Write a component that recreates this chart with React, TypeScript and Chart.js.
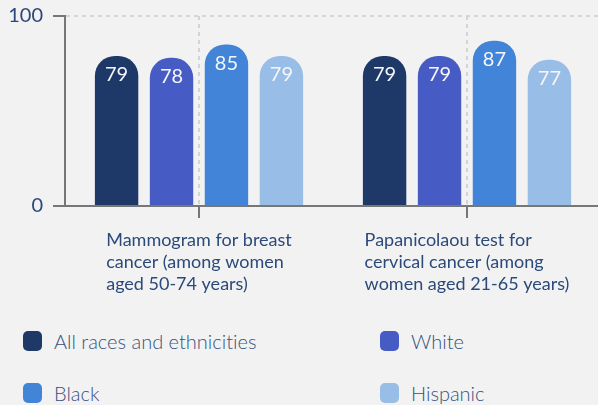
import React, { useEffect, useRef } from "react";
import { Chart, registerables } from "chart.js";

Chart.register(...registerables);

const categories: string[][] = [
  ["Mammogram for breast", "cancer (among women", "aged 50-74 years)"],
  ["Papanicolaou test for", "cervical cancer (among", "women aged 21-65 years)"],
];
const seriesNames = ["All races and ethnicities", "White", "Black", "Hispanic"];
const allRaces = [79, 79];
const white = [78, 79];
const black = [85, 87];
const hispanic = [79, 77];
const seriesValues = [allRaces, white, black, hispanic];
const seriesColors = ["#1e3867", "#465cc4", "#4285d8", "#98bde6"];
const yTicks = [0, 100];

const TEXT = "#2b4a7a";
const FONT = "Lato, 'Noto Sans', sans-serif";

const barLabelPlugin = {
  id: "barLabels",
  afterDatasetsDraw(chart: any) {
    const ctx = chart.ctx;
    ctx.save();
    ctx.font = `20px ${FONT}`;
    ctx.fillStyle = "#f4f6fa";
    ctx.textAlign = "center";
    ctx.textBaseline = "middle";
    chart.data.datasets.forEach((ds: any, di: number) => {
      const meta = chart.getDatasetMeta(di);
      meta.data.forEach((el: any, i: number) => {
        ctx.fillText(String(ds.data[i]), el.x, el.y + 19);
      });
    });
    ctx.restore();
  },
};

const xLabelPlugin = {
  id: "xLabels",
  afterDraw(chart: any) {
    const ctx = chart.ctx;
    const xs = chart.scales.x;
    ctx.save();
    ctx.font = `18px ${FONT}`;
    ctx.fillStyle = TEXT;
    ctx.textAlign = "left";
    ctx.textBaseline = "middle";
    categories.forEach((lines, i) => {
      const cx = xs.getPixelForTick(i);
      const w = Math.max(...lines.map((l) => ctx.measureText(l).width));
      const left = cx - w / 2;
      lines.forEach((l, j) => {
        ctx.fillText(l, left, chart.chartArea.bottom + 34 + 22 * j);
      });
    });
    ctx.restore();
  },
};

export default function App() {
  const ref = useRef<HTMLCanvasElement>(null);
  useEffect(() => {
    document.body.style.margin = "0";
    document.body.style.background = "#f2f2f2";
    const chart = new Chart(ref.current!, {
      type: "bar",
      data: {
        labels: categories,
        datasets: seriesNames.map((name, i) => ({
          label: name,
          data: seriesValues[i],
          backgroundColor: seriesColors[i],
          borderRadius: 20,
          borderSkipped: "start",
          categoryPercentage: 0.82,
          barPercentage: 0.79,
        })),
      },
      options: {
        animation: false,
        responsive: false,
        maintainAspectRatio: false,
        layout: { padding: { top: 16, left: 0, right: 0, bottom: 0 } },
        plugins: { legend: { display: false }, tooltip: { enabled: false } },
        scales: {
          x: {
            offset: true,
            grid: {
              offset: false,
              color: "#d4d4d4",
              lineWidth: 2,
              tickColor: "#777777",
              tickWidth: 2,
              tickLength: 12,
              tickBorderDash: [],
            },
            border: { color: "#777777", width: 2, dash: [4, 4] },
            ticks: { display: false },
            afterFit: (s: any) => {
              s.height = 94;
            },
          },
          y: {
            min: 0,
            max: 100,
            afterBuildTicks: (s: any) => {
              s.ticks = yTicks.map((v) => ({ value: v }));
            },
            grid: {
              color: "#d4d4d4",
              lineWidth: 2,
              tickColor: "#777777",
              tickWidth: 2,
              tickLength: 12,
              tickBorderDash: [],
            },
            border: { color: "#777777", width: 2, dash: [4, 4] },
            ticks: {
              padding: 10,
              color: TEXT,
              font: { family: FONT, size: 20 },
            },
            afterFit: (s: any) => {
              s.width = 65;
              s.paddingTop = 0;
              s.paddingBottom = 0;
            },
          },
        },
      },
      plugins: [barLabelPlugin, xLabelPlugin],
    });
    return () => chart.destroy();
  }, []);

  const legendItem = (i: number, left: number, top: number) => (
    <div
      key={i}
      style={{
        position: "absolute",
        left,
        top,
        display: "flex",
        alignItems: "center",
        height: 22,
      }}
    >
      <div
        style={{
          width: 19,
          height: 20,
          borderRadius: 5,
          background: seriesColors[i],
          marginRight: 12,
        }}
      />
      <span
        style={{
          fontFamily: FONT,
          fontWeight: 300,
          fontSize: 20,
          color: "#35527f",
          whiteSpace: "nowrap",
          fontVariantLigatures: "none",
        }}
      >
        {seriesNames[i]}
      </span>
    </div>
  );

  return (
    <div
      style={{
        position: "relative",
        width: 598,
        height: 405,
        overflow: "hidden",
        background: "#f2f2f2",
      }}
    >
      <canvas
        ref={ref}
        width={601}
        height={300}
        style={{ position: "absolute", left: 0, top: 0, width: 601, height: 300 }}
      />
      {legendItem(0, 23, 330)}
      {legendItem(1, 380, 330)}
      {legendItem(2, 23, 382)}
      {legendItem(3, 380, 382)}
    </div>
  );
}
